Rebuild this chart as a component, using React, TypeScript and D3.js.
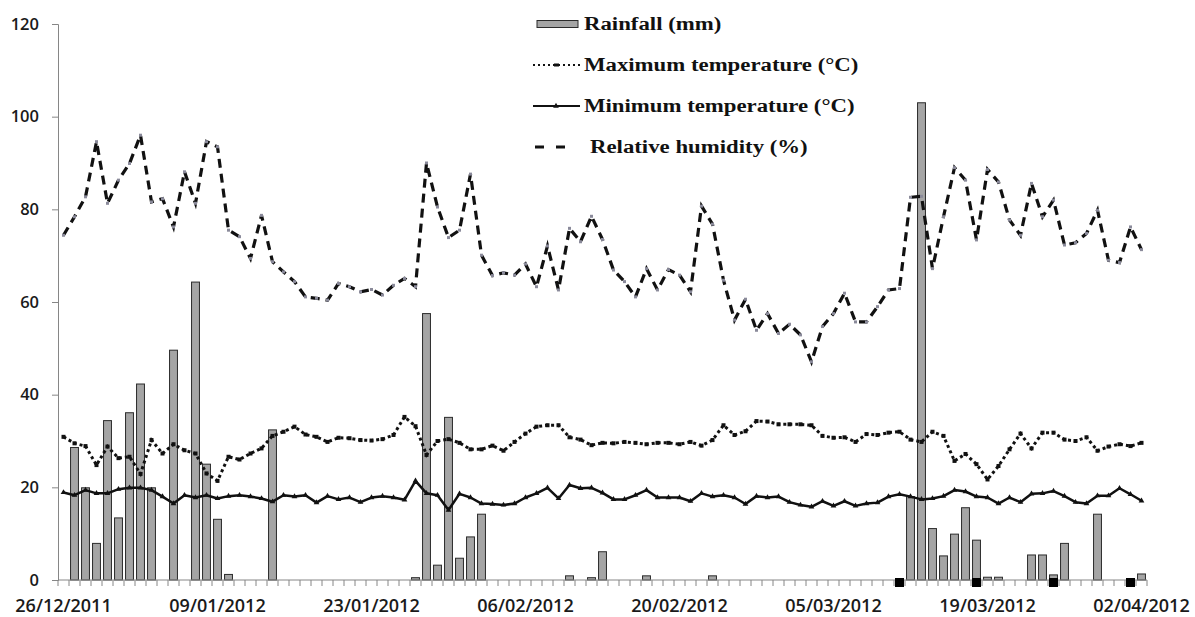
import React, { useRef, useEffect } from "react";
import * as d3 from "d3";

const fmt = d3.timeFormat("%d/%m/%Y");
const dates = d3.timeDay.range(new Date(2011, 11, 26), new Date(2012, 3, 3)).map(fmt);

const rainfall = [
  0, 28.6, 19.9, 7.9, 34.4, 13.4, 36.1, 42.3, 19.9, 0,
  49.6, 0, 64.3, 25.0, 13.1, 1.2, 0, 0, 0, 32.4,
  0, 0, 0, 0, 0, 0, 0, 0, 0, 0,
  0, 0, 0.5, 57.5, 3.2, 35.1, 4.7, 9.3, 14.2, 0,
  0, 0, 0, 0, 0, 0, 0.9, 0, 0.5, 6.1,
  0, 0, 0, 0.9, 0, 0, 0, 0, 0, 0.9,
  0, 0, 0, 0, 0, 0, 0, 0, 0, 0,
  0, 0, 0, 0, 0, 0, 0, 18.0, 103, 11.1,
  5.2, 9.9, 15.6, 8.6, 0.6, 0.6, 0, 0, 5.4, 5.4,
  1.1, 7.9, 0, 0, 14.2, 0, 0, 0, 1.3,
];

const maxTemp = [
  30.9, 29.5, 28.9, 24.8, 28.8, 26.3, 26.6, 22.9, 30.2, 27.3,
  29.3, 28.0, 27.3, 23.0, 21.4, 26.6, 26.0, 27.3, 28.4, 31.1,
  32.0, 33.1, 31.4, 30.9, 29.8, 30.7, 30.6, 30.2, 30.1, 30.4,
  31.3, 35.2, 33.2, 27.0, 30.0, 30.4, 29.6, 28.2, 28.2, 29.0,
  27.9, 29.8, 31.6, 33.1, 33.4, 33.4, 30.8, 30.3, 29.1, 29.6,
  29.5, 29.8, 29.6, 29.3, 29.6, 29.6, 29.3, 29.8, 29.0, 30.2,
  33.4, 31.3, 32.1, 34.3, 34.2, 33.6, 33.6, 33.6, 33.4, 31.1,
  30.7, 30.8, 29.8, 31.5, 31.3, 31.8, 32.0, 30.3, 29.8, 32.0,
  31.1, 25.7, 27.2, 25.0, 21.7, 24.6, 28.2, 31.6, 28.4, 31.8,
  31.8, 30.3, 30.0, 30.8, 27.9, 28.8, 29.3, 28.9, 29.6,
];

const minTemp = [
  18.9, 18.3, 19.4, 18.7, 18.7, 19.6, 19.9, 19.9, 19.4, 18.0,
  16.5, 18.3, 17.8, 18.3, 17.6, 18.1, 18.3, 18.0, 17.6, 16.9,
  18.3, 18.0, 18.3, 16.7, 18.1, 17.4, 17.8, 16.8, 17.8, 18.1,
  17.8, 17.3, 21.4, 18.7, 18.3, 15.1, 18.6, 17.8, 16.5, 16.4,
  16.2, 16.5, 17.8, 18.7, 19.9, 17.6, 20.5, 19.8, 19.9, 18.8,
  17.4, 17.4, 18.3, 19.4, 17.8, 17.8, 17.8, 17.0, 18.7, 18.0,
  18.3, 17.8, 16.4, 18.1, 17.8, 18.0, 16.8, 16.2, 15.8, 17.0,
  16.0, 17.0, 16.0, 16.5, 16.7, 18.0, 18.5, 18.0, 17.4, 17.6,
  18.1, 19.4, 19.1, 18.0, 17.8, 16.5, 17.8, 16.8, 18.6, 18.7,
  19.2, 18.1, 16.8, 16.5, 18.2, 18.2, 19.8, 18.5, 17.1,
];

const humidity = [
  74.4, 78.4, 82.7, 94.6, 81.3, 86.3, 89.9, 96.0, 81.6, 82.3,
  76.2, 88.1, 81.3, 94.6, 93.5, 75.5, 74.1, 69.4, 78.7, 68.7,
  66.5, 64.4, 61.1, 60.8, 60.4, 64.0, 63.3, 62.2, 62.7, 61.5,
  63.6, 65.1, 63.3, 90.0, 80.5, 73.9, 75.5, 87.6, 70.1, 65.7,
  66.3, 65.8, 68.2, 63.3, 72.1, 62.6, 75.9, 73.0, 78.5, 73.5,
  66.9, 64.4, 61.1, 67.2, 62.6, 67.0, 65.8, 62.2, 80.7, 76.8,
  64.7, 56.1, 60.6, 53.9, 57.5, 53.2, 55.2, 52.9, 47.1, 54.7,
  57.5, 61.9, 55.7, 55.7, 59.0, 62.6, 62.9, 82.6, 82.8, 67.2,
  78.4, 89.0, 86.3, 73.4, 88.6, 85.9, 77.7, 74.4, 85.6, 78.4,
  82.0, 72.3, 72.8, 74.8, 79.8, 69.0, 68.5, 76.2, 71.3,
];

const tickLabels = [
  "26/12/2011", "09/01/2012", "23/01/2012", "06/02/2012",
  "20/02/2012", "05/03/2012", "19/03/2012", "02/04/2012",
];
const markerDates = ["11/03/2012", "18/03/2012", "25/03/2012", "01/04/2012"];
const yTicks = [0, 20, 40, 60, 80, 100, 120];

const legendItems = [
  { key: "rain", label: "Rainfall (mm)" },
  { key: "max", label: "Maximum temperature (°C)" },
  { key: "min", label: "Minimum temperature (°C)" },
  { key: "rh", label: "Relative humidity (%)" },
];

const WeatherChart = () => {
  const svgRef = useRef<SVGSVGElement>(null);

  useEffect(() => {
    if (!svgRef.current) return;
    const svg = d3.select(svgRef.current);
    svg.selectAll("*").remove();

    const width = 1195;
    const height = 617;
    const left = 58;
    const right = 1147;
    const axisGray = "#868686";
    const labelFont = "'Open Sans', sans-serif";

    const x = d3
      .scaleBand()
      .domain(dates)
      .range([left, right])
      .paddingInner(0.28)
      .paddingOuter(0.14);
    const cx = (d: string) => (x(d) as number) + x.bandwidth() / 2;
    const y = d3.scaleLinear().domain([0, 120]).range([580, 24]);

    svg.attr("width", width).attr("height", height);

    // y axis
    const yAxis = svg
      .append("g")
      .attr("transform", `translate(${left},0)`)
      .call(d3.axisLeft(y).tickValues(yTicks).tickSize(6).tickPadding(13));
    yAxis.select(".domain").attr("stroke", axisGray);
    yAxis.selectAll(".tick line").attr("stroke", axisGray);
    yAxis
      .selectAll(".tick text")
      .attr("fill", "#1a1a1a")
      .style("font-family", labelFont)
      .style("font-size", "16.5px")
      .style("font-weight", "600");

    // rainfall bars
    svg
      .append("g")
      .selectAll("rect")
      .data(rainfall.map((v, i) => ({ date: dates[i], v })).filter((d) => d.v > 0))
      .enter()
      .append("rect")
      .attr("x", (d) => x(d.date) as number)
      .attr("y", (d) => y(d.v))
      .attr("width", x.bandwidth())
      .attr("height", (d) => y(0) - y(d.v))
      .attr("fill", "#a5a5a5")
      .attr("stroke", "#2b2b2b")
      .attr("stroke-width", 1);

    // x axis line and category ticks
    const xAxis = svg.append("g");
    xAxis
      .append("line")
      .attr("x1", left)
      .attr("x2", right)
      .attr("y1", y(0))
      .attr("y2", y(0))
      .attr("stroke", axisGray);
    xAxis
      .selectAll("line.tick")
      .data(d3.range(dates.length + 1))
      .enter()
      .append("line")
      .attr("class", "tick")
      .attr("x1", (i) => left + i * x.step())
      .attr("x2", (i) => left + i * x.step())
      .attr("y1", y(0))
      .attr("y2", y(0) + 6)
      .attr("stroke", axisGray);
    xAxis
      .selectAll("text")
      .data(tickLabels)
      .enter()
      .append("text")
      .attr("x", (d) => cx(d))
      .attr("y", 612)
      .attr("text-anchor", "middle")
      .attr("fill", "#1a1a1a")
      .style("font-family", labelFont)
      .style("font-size", "18px")
      .style("font-weight", "600")
      .text((d) => d);

    // lines
    const line = d3
      .line<number>()
      .x((d, i) => cx(dates[i]))
      .y((d) => y(d));

    svg
      .append("path")
      .attr("d", line(minTemp))
      .attr("fill", "none")
      .attr("stroke", "#111")
      .attr("stroke-width", 2.5)
      .attr("stroke-linejoin", "round");
    svg
      .append("g")
      .selectAll("path")
      .data(minTemp)
      .enter()
      .append("path")
      .attr("d", d3.symbol(d3.symbolTriangle, 14)())
      .attr("transform", (d, i) => `translate(${cx(dates[i])},${y(d)})`)
      .attr("fill", "#111");

    svg
      .append("path")
      .attr("d", line(maxTemp))
      .attr("fill", "none")
      .attr("stroke", "#111")
      .attr("stroke-width", 3)
      .attr("stroke-dasharray", "3,3");
    svg
      .append("g")
      .selectAll("rect")
      .data(maxTemp)
      .enter()
      .append("rect")
      .attr("x", (d, i) => cx(dates[i]) - 2)
      .attr("y", (d) => y(d) - 2)
      .attr("width", 4)
      .attr("height", 4)
      .attr("fill", "#111");

    svg
      .append("path")
      .attr("d", line(humidity))
      .attr("fill", "none")
      .attr("stroke", "#111")
      .attr("stroke-width", 3.2)
      .attr("stroke-dasharray", "9,6");
    svg
      .append("g")
      .selectAll("rect")
      .data(humidity)
      .enter()
      .append("rect")
      .attr("x", (d, i) => cx(dates[i]) - 1.5)
      .attr("y", (d) => y(d) - 1.5)
      .attr("width", 3)
      .attr("height", 3)
      .attr("fill", "#8a8a9a");

    // black square markers on the axis
    svg
      .append("g")
      .selectAll("rect")
      .data(markerDates)
      .enter()
      .append("rect")
      .attr("x", (d) => cx(d) - 4.5)
      .attr("y", y(0) - 2)
      .attr("width", 9)
      .attr("height", 9)
      .attr("fill", "#000");

    // legend
    const legend = svg.append("g");
    const rowY = [24, 65, 106, 147];
    legendItems.forEach((item, k) => {
      const ly = rowY[k];
      if (item.key === "rain") {
        legend
          .append("rect")
          .attr("x", 537)
          .attr("y", ly - 3.5)
          .attr("width", 41)
          .attr("height", 7)
          .attr("fill", "#a5a5a5")
          .attr("stroke", "#2b2b2b");
      } else if (item.key === "max") {
        legend
          .append("line")
          .attr("x1", 533)
          .attr("x2", 580)
          .attr("y1", ly)
          .attr("y2", ly)
          .attr("stroke", "#111")
          .attr("stroke-width", 2)
          .attr("stroke-dasharray", "2,3");
        legend
          .append("rect")
          .attr("x", 554)
          .attr("y", ly - 1.5)
          .attr("width", 5)
          .attr("height", 3)
          .attr("fill", "#111");
      } else if (item.key === "min") {
        legend
          .append("line")
          .attr("x1", 533)
          .attr("x2", 580)
          .attr("y1", ly)
          .attr("y2", ly)
          .attr("stroke", "#111")
          .attr("stroke-width", 2);
        legend
          .append("path")
          .attr("d", d3.symbol(d3.symbolTriangle, 14)())
          .attr("transform", `translate(556,${ly})`)
          .attr("fill", "#111");
      } else {
        legend
          .append("line")
          .attr("x1", 535)
          .attr("x2", 567)
          .attr("y1", ly)
          .attr("y2", ly)
          .attr("stroke", "#111")
          .attr("stroke-width", 3.2)
          .attr("stroke-dasharray", "9,12");
      }
      legend
        .append("text")
        .attr("transform", `translate(${item.key === "rh" ? 590 : 584},${ly + 6}) scale(1.2,1)`)
        .attr("fill", "#111")
        .style("font-family", "'Liberation Serif', 'Times New Roman', serif")
        .style("font-size", "19px")
        .style("font-weight", "bold")
        .text(item.label);
    });
  }, []);

  return <svg ref={svgRef} style={{ position: "absolute", left: 0, top: 0 }}></svg>;
};

export default function App() {
  return <WeatherChart />;
}
